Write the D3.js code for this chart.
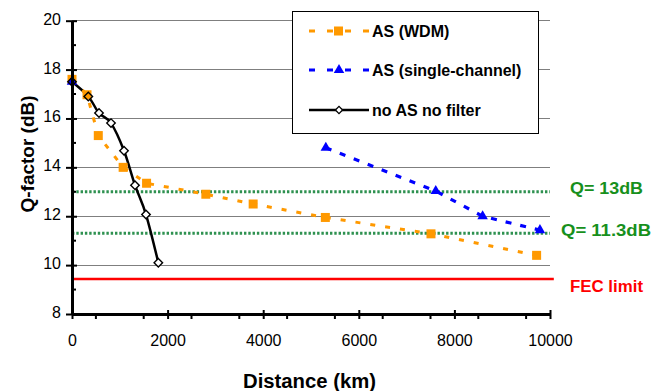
<!DOCTYPE html>
<html><head><meta charset="utf-8">
<script src="https://cdn.jsdelivr.net/npm/d3@7"></script>
<style>body{margin:0;background:#fff}svg{display:block}text{font-family:"Liberation Sans",Arial,sans-serif}</style>
</head><body><svg id="c" width="652" height="391"></svg>
<script>
// ---- data ----
const wdmDistance = [0, 314, 550, 1070, 1560, 2800, 3790, 5300, 7510, 9720];
const wdmQ        = [17.6, 16.97, 15.3, 14.0, 13.35, 12.9, 12.5, 11.95, 11.28, 10.4];
const singleDistance = [0, 2800, 5310, 7610, 8590, 9790];
const singleQ        = [17.5, null, 14.8, 13.03, 12.0, 11.43];
const noAsDistance = [0, 341, 565, 816, 1088, 1318, 1548, 1806];
const noAsQ        = [17.5, 16.9, 16.22, 15.81, 14.68, 13.27, 12.07, 10.1];
const thresholds = [
  {name: "Q= 13dB", q: 13, color: "#2e9150", dotted: true, text: "#17901c"},
  {name: "Q= 11.3dB", q: 11.3, color: "#2e9150", dotted: true, text: "#17901c"},
  {name: "FEC limit", q: 9.43, color: "#ff0000", dotted: false, text: "#ff0000"}
];
const yTicks = [8, 10, 12, 14, 16, 18, 20];
const xTicks = [0, 2000, 4000, 6000, 8000, 10000];
const legendLabels = ["AS (WDM)", "AS (single-channel)", "no AS no filter"];

// ---- scales ----
const svg = d3.select("#c");
svg.append("rect").attr("width", 652).attr("height", 391).attr("fill", "#fff");
const x = d3.scaleLinear().domain([0, 10000]).range([72, 550]);
const y = d3.scaleLinear().domain([8, 20]).range([314, 20.7]);

// gridlines
svg.append("g").selectAll("line").data(yTicks.filter(d => d > 8)).join("line")
  .attr("x1", x(0)).attr("x2", x(10000))
  .attr("y1", d => y(d)).attr("y2", d => y(d))
  .attr("stroke", "#7f7f7f").attr("stroke-width", 1).attr("shape-rendering", "crispEdges");

// threshold lines
svg.append("g").selectAll("line").data(thresholds).join("line")
  .attr("x1", x(0)).attr("x2", d => d.dotted ? x(10000) : x(10080))
  .attr("y1", d => y(d.q)).attr("y2", d => y(d.q))
  .attr("stroke", d => d.color).attr("stroke-width", d => d.dotted ? 3 : 2.6)
  .attr("stroke-dasharray", d => d.dotted ? "2.4,1.9" : null);

const thrOffsets = [{dx: 570, dy: 2, w: 73}, {dx: 561, dy: 3, w: 90}, {dx: 570, dy: 13, w: 73}];
svg.append("g").selectAll("text").data(thresholds).join("text")
  .attr("x", (d, i) => thrOffsets[i].dx).attr("y", (d, i) => y(d.q) + thrOffsets[i].dy)
  .attr("fill", d => d.text).attr("font-size", 16).attr("font-weight", "bold")
  .attr("textLength", (d, i) => thrOffsets[i].w).attr("lengthAdjust", "spacingAndGlyphs")
  .text(d => d.name);

const noAs = noAsDistance.map((d, i) => ({d, q: noAsQ[i]}));
const wdm = wdmDistance.map((d, i) => ({d, q: wdmQ[i]}));
const single = singleDistance.map((d, i) => ({d, q: singleQ[i]}));

// no AS line
svg.append("path").datum(noAs)
  .attr("d", d3.line().x(p => x(p.d)).y(p => y(p.q)).curve(d3.curveCardinal.tension(0)))
  .attr("fill", "none").attr("stroke", "#000").attr("stroke-width", 2.5);

const diamond = d3.symbol().type(d3.symbolSquare).size(36);
svg.append("g").selectAll("path").data(noAs).join("path")
  .attr("transform", p => `translate(${x(p.d)},${y(p.q)}) rotate(45)`)
  .attr("d", diamond).attr("fill", "#fff");

// WDM
svg.append("path").datum(wdm)
  .attr("d", d3.line().x(p => x(p.d)).y(p => y(p.q)))
  .attr("fill", "none").attr("stroke", "#ff9900").attr("stroke-width", 3).attr("stroke-dasharray", "5,10");
svg.append("g").selectAll("rect").data(wdm).join("rect")
  .attr("x", p => x(p.d) - 4.5).attr("y", p => y(p.q) - 4.5).attr("width", 9).attr("height", 9)
  .attr("fill", "#ff9900");

// single-channel
svg.append("path").datum(single)
  .attr("d", d3.line().defined(p => p.q !== null).x(p => x(p.d)).y(p => y(p.q)))
  .attr("fill", "none").attr("stroke", "#0000ff").attr("stroke-width", 3.2).attr("stroke-dasharray", "6,9");
const tri = d3.symbol().type(d3.symbolTriangle).size(48);
svg.append("g").selectAll("path").data(single.filter(p => p.q !== null)).join("path")
  .attr("transform", p => `translate(${x(p.d)},${y(p.q)})`)
  .attr("d", tri).attr("fill", "#0000ff");

// diamond outlines on top
svg.append("g").selectAll("path").data(noAs).join("path")
  .attr("transform", p => `translate(${x(p.d)},${y(p.q)}) rotate(45)`)
  .attr("d", diamond).attr("fill", "none").attr("stroke", "#000").attr("stroke-width", 1.4);

// axes
const yAxis = svg.append("g").attr("transform", `translate(${x(0)},0)`)
  .call(d3.axisLeft(y).tickValues(yTicks).tickSize(6).tickSizeOuter(0).tickPadding(5).tickFormat(d3.format("d")));
yAxis.select(".domain").attr("stroke-width", 3).attr("stroke", "#000");
yAxis.selectAll(".tick line").attr("x1", 5).attr("stroke-width", 2);
yAxis.selectAll(".tick text").attr("font-size", 16).attr("fill", "#000").attr("dy", "0.22em")
  .attr("font-family", '"Liberation Sans",Arial,sans-serif');
svg.append("g").selectAll("line").data(d3.range(9, 20, 2)).join("line")
  .attr("x1", x(0)).attr("x2", x(0) + 4).attr("y1", d => y(d)).attr("y2", d => y(d))
  .attr("stroke", "#000").attr("stroke-width", 2);

const xAxis = svg.append("g").attr("transform", `translate(0,${y(8)})`)
  .call(d3.axisBottom(x).tickValues(xTicks).tickSize(5).tickSizeOuter(0).tickPadding(16).tickFormat(d3.format("d")));
xAxis.select(".domain").attr("stroke-width", 3).attr("stroke", "#000");
xAxis.selectAll(".tick line").attr("y1", -4).attr("stroke-width", 2);
xAxis.selectAll(".tick text").attr("font-size", 16).attr("fill", "#000")
  .attr("font-family", '"Liberation Sans",Arial,sans-serif');
svg.append("g").selectAll("line").data(d3.range(500, 10000, 1000)).join("line")
  .attr("x1", d => x(d)).attr("x2", d => x(d)).attr("y1", y(8)).attr("y2", y(8) + 5)
  .attr("stroke", "#000").attr("stroke-width", 2);

// axis titles
svg.append("text").attr("x", 309.5).attr("y", 388).attr("text-anchor", "middle")
  .attr("font-size", 20).attr("font-weight", "bold").attr("textLength", 133).attr("lengthAdjust", "spacingAndGlyphs")
  .text("Distance (km)");
svg.append("text").attr("transform", "translate(33.5,154) rotate(-90)").attr("text-anchor", "middle")
  .attr("font-size", 19).attr("font-weight", "bold").attr("textLength", 117).attr("lengthAdjust", "spacingAndGlyphs")
  .text("Q-factor (dB)");

// legend
const lg = svg.append("g");
lg.append("rect").attr("x", 292.5).attr("y", 11.5).attr("width", 246).attr("height", 122)
  .attr("fill", "#fff").attr("stroke", "#000").attr("stroke-width", 1);
const rowsY = [31, 70, 110];
const styles = [
  {stroke: "#ff9900", dash: "6,12", w: 3},
  {stroke: "#0000ff", dash: "6,12", w: 3.2},
  {stroke: "#000", dash: null, w: 2.5}
];
legendLabels.forEach((lab, i) => {
  lg.append("line").attr("x1", 309).attr("x2", 369).attr("y1", rowsY[i]).attr("y2", rowsY[i])
    .attr("stroke", styles[i].stroke).attr("stroke-width", styles[i].w).attr("stroke-dasharray", styles[i].dash);
  lg.append("text").attr("x", 372).attr("y", rowsY[i] + 6).attr("font-size", 16).attr("font-weight", "bold")
    .text(lab);
});
lg.append("rect").attr("x", 334).attr("y", rowsY[0] - 4.5).attr("width", 9).attr("height", 9).attr("fill", "#ff9900");
lg.append("path").attr("transform", `translate(339,${rowsY[1]})`).attr("d", tri).attr("fill", "#0000ff");
lg.append("path").attr("transform", `translate(339,${rowsY[2]}) rotate(45)`).attr("d", d3.symbol().type(d3.symbolSquare).size(26))
  .attr("fill", "#fff").attr("stroke", "#000").attr("stroke-width", 1.3);
</script></body></html>
